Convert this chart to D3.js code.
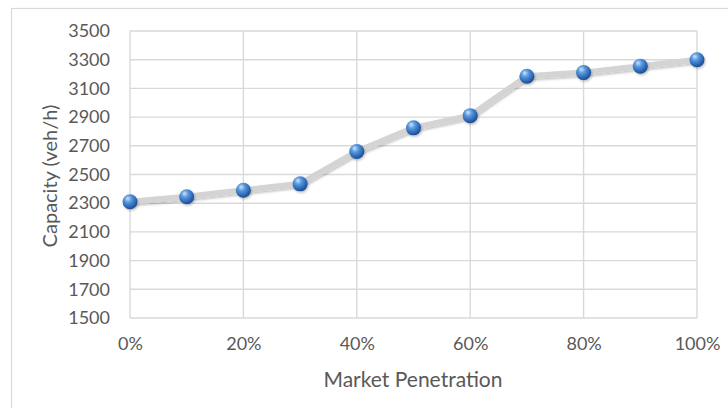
<!DOCTYPE html>
<html>
<head>
<meta charset="utf-8">
<script src="https://cdn.jsdelivr.net/npm/d3@7"></script>
<style>
  html, body { margin: 0; padding: 0; background: #fff; }
  svg { display: block; }
  text { font-family: Lato, "Open Sans", sans-serif; fill: #595959; }
</style>
</head>
<body>
<svg id="chart" width="728" height="408"></svg>
<script>
// Capacity by market penetration
const penetration = [0, 0.1, 0.2, 0.3, 0.4, 0.5, 0.6, 0.7, 0.8, 0.9, 1.0];
const capacity = [2310, 2345, 2390, 2435, 2660, 2825, 2910, 3185, 3210, 3255, 3300];
const yTicks = [1500, 1700, 1900, 2100, 2300, 2500, 2700, 2900, 3100, 3300, 3500];
const xTicks = [0, 0.2, 0.4, 0.6, 0.8, 1.0];
const xTitle = "Market Penetration";
const yTitle = "Capacity (veh/h)";

const W = 728, H = 408;
const plot = { left: 130, right: 697, top: 31, bottom: 318 };

const svg = d3.select("#chart");

// chart frame
svg.append("rect")
  .attr("x", 11.5).attr("y", 8.5)
  .attr("width", W + 20).attr("height", H + 20)
  .attr("fill", "#fff").attr("stroke", "#d9d9d9").attr("stroke-width", 1.2);

const x = d3.scaleLinear().domain([0, 1]).range([plot.left, plot.right]);
const y = d3.scaleLinear().domain([1500, 3500]).range([plot.bottom, plot.top]);

// gridlines
const grid = svg.append("g").attr("stroke", "#d9d9d9").attr("stroke-width", 1.4);
grid.selectAll("line.h").data(yTicks).join("line").attr("class", "h")
  .attr("x1", plot.left).attr("x2", plot.right)
  .attr("y1", d => y(d)).attr("y2", d => y(d));
grid.selectAll("line.v").data(xTicks).join("line").attr("class", "v")
  .attr("y1", plot.top).attr("y2", plot.bottom)
  .attr("x1", d => x(d)).attr("x2", d => x(d));

// axes (labels only)
const yAxis = svg.append("g")
  .attr("transform", `translate(${plot.left},0)`)
  .call(d3.axisLeft(y).tickValues(yTicks).tickSize(0).tickPadding(20).tickFormat(d3.format("d")));
yAxis.select(".domain").remove();
yAxis.selectAll("text").style("font-size", "18px").attr("fill", "#595959");

const xAxis = svg.append("g")
  .attr("transform", `translate(0,${plot.bottom})`)
  .call(d3.axisBottom(x).tickValues(xTicks).tickSize(0).tickPadding(19).tickFormat(d3.format(".0%")));
xAxis.select(".domain").remove();
xAxis.selectAll("text").style("font-size", "18px").attr("fill", "#595959");

// titles
svg.append("text")
  .attr("x", 413).attr("y", 378)
  .attr("text-anchor", "middle").attr("dominant-baseline", "central")
  .style("font-size", "21px").text(xTitle);
svg.append("text")
  .attr("transform", `translate(49,176) rotate(-90)`)
  .attr("text-anchor", "middle").attr("dominant-baseline", "central")
  .style("font-size", "20px").text(yTitle);

// defs: marker sphere gradient and line shadow
const defs = svg.append("defs");
const grad = defs.append("radialGradient").attr("id", "sphere")
  .attr("cx", "40%").attr("cy", "35%").attr("r", "65%").attr("fx", "35%").attr("fy", "28%");
grad.append("stop").attr("offset", "0%").attr("stop-color", "#cfe4fb");
grad.append("stop").attr("offset", "35%").attr("stop-color", "#5b9be0");
grad.append("stop").attr("offset", "75%").attr("stop-color", "#2f6ab8");
grad.append("stop").attr("offset", "100%").attr("stop-color", "#1d4c8c");

const shadow = defs.append("filter").attr("id", "shadow")
  .attr("x", "-20%").attr("y", "-20%").attr("width", "140%").attr("height", "140%");
shadow.append("feDropShadow").attr("dx", 1).attr("dy", 1.5).attr("stdDeviation", 1.2)
  .attr("flood-color", "#000").attr("flood-opacity", 0.25);

const pts = penetration.map((p, i) => [p, capacity[i]]);

// series line
svg.append("path")
  .datum(pts)
  .attr("fill", "none")
  .attr("stroke", "#d4d4d4")
  .attr("stroke-width", 6)
  .attr("stroke-linejoin", "round")
  .attr("filter", "url(#shadow)")
  .attr("d", d3.line().x(d => x(d[0])).y(d => y(d[1])));

// markers
svg.append("g").selectAll("circle").data(pts).join("circle")
  .attr("cx", d => x(d[0])).attr("cy", d => y(d[1]))
  .attr("r", 7.5)
  .attr("fill", "url(#sphere)")
  .attr("filter", "url(#shadow)");
</script>
</body>
</html>
